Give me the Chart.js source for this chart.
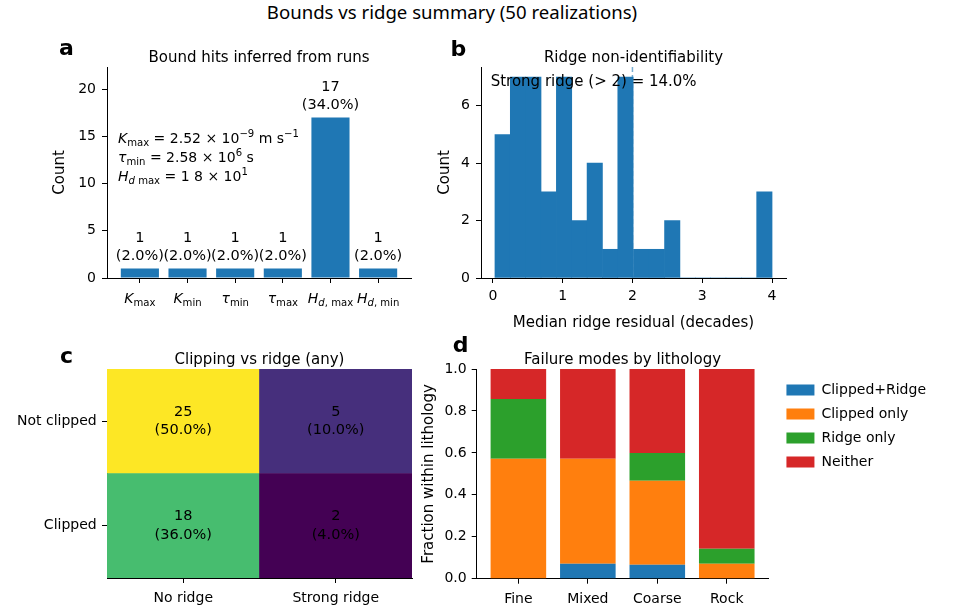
<!DOCTYPE html>
<html>
<head>
<meta charset="utf-8">
<script src="https://cdn.jsdelivr.net/npm/chart.js@4.4.1/dist/chart.umd.min.js"></script>
<style>
  body { margin: 0; background: #fff; }
  #fig { position: relative; width: 961px; height: 612px; background: #fff; overflow: hidden; }
  #fig canvas { position: absolute; }
  #sup { position: absolute; left: 0; top: 0; width: 904px; text-align: center;
         font: 18.6px "Noto Sans"; line-height: 24px; color: #000; }
</style>
</head>
<body>
<div id="fig">
  <div id="sup">Bounds vs ridge summary (50 realizations)</div>
  <canvas id="cA" width="420" height="320" style="left:0;top:30px"></canvas>
  <canvas id="cB" width="380" height="320" style="left:420px;top:30px"></canvas>
  <canvas id="cC" width="420" height="272" style="left:0;top:340px"></canvas>
  <canvas id="cD" width="551" height="282" style="left:410px;top:330px"></canvas>
</div>
<script>
// ---- data ----
// a: bound hits
var boundNames = ['K_max', 'K_min', 'tau_min', 'tau_max', 'H_d,max', 'H_d,min'];
var boundHits = [1, 1, 1, 1, 17, 1];
var nRuns = 50;

// b: median ridge residual histogram
var residEdges = [0.03, 0.25, 0.47, 0.69, 0.91, 1.13, 1.35, 1.57, 1.79, 2.01,
                  2.24, 2.46, 2.68, 2.90, 3.12, 3.34, 3.56, 3.78, 4.00];
var residCounts = [5, 7, 7, 3, 7, 2, 4, 1, 7, 1, 1, 2, 0, 0, 0, 0, 0, 3];
var ridgeThreshold = 2;
var strongRidgePct = 14.0;

// c: clipping vs ridge
var ridgeCols = ['No ridge', 'Strong ridge'];
var clipRows = ['Not clipped', 'Clipped'];
var notClippedCounts = [25, 5];
var clippedCounts = [18, 2];

// d: failure modes by lithology (counts per lithology)
var lithos = ['Fine', 'Mixed', 'Coarse', 'Rock'];
var modeNames = ['Clipped+Ridge', 'Clipped only', 'Ridge only', 'Neither'];
var clippedRidge = [0, 1, 1, 0];
var clippedOnly = [4, 7, 6, 1];
var ridgeOnly = [2, 0, 2, 1];
var neither = [1, 6, 6, 12];

// ---- look ----
var FONT = '"DejaVu Sans"';
Chart.defaults.font.family = FONT;
Chart.defaults.color = '#000';
var tab = ['#1f77b4', '#ff7f0e', '#2ca02c', '#d62728'];

// mathtext-ish labels
var mathLabels = {
  'K_max': [{t: 'K', i: 1}, {t: 'max', s: -1}],
  'K_min': [{t: 'K', i: 1}, {t: 'min', s: -1}],
  'tau_min': [{t: 'τ', i: 1}, {t: 'min', s: -1}],
  'tau_max': [{t: 'τ', i: 1}, {t: 'max', s: -1}],
  'H_d,max': [{t: 'H', i: 1}, {t: 'd', i: 1, s: -1}, {t: ', max', s: -1}],
  'H_d,min': [{t: 'H', i: 1}, {t: 'd', i: 1, s: -1}, {t: ', min', s: -1}]
};
var boundNotes = [
  [{t: 'K', i: 1}, {t: 'max', s: -1}, {t: ' = 2.52 × 10'}, {t: '−9', s: 1}, {t: ' m s'}, {t: '−1', s: 1}],
  [{t: 'τ', i: 1}, {t: 'min', s: -1}, {t: ' = 2.58 × 10'}, {t: '6', s: 1}, {t: ' s'}],
  [{t: 'H', i: 1}, {t: 'd', i: 1, s: -1}, {t: ' max', s: -1}, {t: ' = 1 8 × 10'}, {t: '1', s: 1}]
];

function drawMath(ctx, x, y, parts, size, align) {
  var font = function (p) { return (p.i ? 'italic ' : '') + (p.s ? size * 0.72 : size) + 'px ' + FONT; };
  var w = 0;
  parts.forEach(function (p) { ctx.font = font(p); w += ctx.measureText(p.t).width; });
  var cx = align === 'center' ? x - w / 2 : x;
  ctx.textAlign = 'left';
  ctx.textBaseline = 'alphabetic';
  parts.forEach(function (p) {
    ctx.font = font(p);
    var dy = p.s === -1 ? size * 0.2 : (p.s === 1 ? -size * 0.42 : 0);
    ctx.fillText(p.t, cx, y + dy);
    cx += ctx.measureText(p.t).width;
  });
}

function letter(ctx, ch, x, y) {
  ctx.font = 'bold 22px ' + FONT;
  ctx.textAlign = 'left';
  ctx.textBaseline = 'alphabetic';
  ctx.fillStyle = '#000';
  ctx.fillText(ch, x, y);
}

// viridis colormap anchors
var viridisStops = ['#440154', '#472d7b', '#3b528b', '#2c728e', '#21918c', '#28ae80', '#5ec962', '#addc30', '#fde725'];
function viridis(t) {
  var n = viridisStops.length - 1, k = Math.min(n - 1, Math.floor(t * n)), f = t * n - k;
  var a = viridisStops[k], b = viridisStops[k + 1];
  var c = [1, 3, 5].map(function (o) {
    var va = parseInt(a.substr(o, 2), 16), vb = parseInt(b.substr(o, 2), 16);
    return Math.round(va + (vb - va) * f);
  });
  return 'rgb(' + c.join(',') + ')';
}

function yAxis(width, title, titlePad, extra) {
  var s = {
    afterFit: function (sc) { sc.width = width; },
    border: {display: true, color: '#000', width: 1},
    grid: {drawOnChartArea: false, drawTicks: true, tickLength: 5, tickColor: '#000'},
    ticks: {color: '#000', font: {size: 14}, padding: 5},
    title: title ? {display: true, text: title, color: '#000', font: {size: 15, lineHeight: 1}, padding: {top: titlePad, bottom: 0}} : {display: false}
  };
  for (var k in extra) s[k] = extra[k];
  return s;
}
function xAxis(height, extra) {
  var s = {
    afterFit: function (sc) { sc.height = height; },
    border: {display: true, color: '#000', width: 1},
    grid: {drawOnChartArea: false, drawTicks: true, tickLength: 5, tickColor: '#000', offset: false},
    ticks: {color: '#000', font: {size: 14}, padding: 5.5, maxRotation: 0, autoSkip: false}
  };
  for (var k in extra) s[k] = extra[k];
  return s;
}
function panelTitle(text, top, bottom) {
  return {display: true, fullSize: false, text: text, color: '#000', font: {size: 15, weight: 'normal', lineHeight: 1}, padding: {top: top, bottom: bottom}};
}

// ---- a: bound hits ----
new Chart(document.getElementById('cA'), {
  type: 'bar',
  data: {
    datasets: [{
      data: boundHits.map(function (v, i) { return {x: i, y: v}; }),
      backgroundColor: tab[0], borderWidth: 0, barPercentage: 0.8, categoryPercentage: 1
    }]
  },
  options: {
    responsive: false, animation: false,
    layout: {padding: {left: 0, right: 9, top: 0, bottom: 0}},
    plugins: {legend: {display: false}, tooltip: {enabled: false}, title: panelTitle('Bound hits inferred from runs', 21, 1)},
    scales: {
      x: xAxis(72, {
        type: 'linear', offset: false, min: -0.69, max: 5.69,
        afterBuildTicks: function (sc) { sc.ticks = boundNames.map(function (n, i) { return {value: i}; }); },
        ticks: {display: false}
      }),
      y: yAxis(107, 'Count', 53, {
        min: 0, max: 22.35,
        ticks: {color: '#000', font: {size: 14}, padding: 6, stepSize: 5, includeBounds: false}
      })
    }
  },
  plugins: [{
    id: 'textA',
    afterDraw: function (chart) {
      var ctx = chart.ctx, area = chart.chartArea, xs = chart.scales.x, ys = chart.scales.y;
      ctx.save();
      ctx.fillStyle = '#000';
      ctx.font = '14.5px ' + FONT;
      ctx.textAlign = 'center';
      ctx.textBaseline = 'middle';
      boundHits.forEach(function (v, i) {
        var x = xs.getPixelForValue(i), top = ys.getPixelForValue(v);
        ctx.fillText(String(v), x, top - 30.5);
        ctx.fillText('(' + (100 * v / nRuns).toFixed(1) + '%)', x, top - 12);
      });
      boundNames.forEach(function (n, i) {
        drawMath(ctx, xs.getPixelForValue(i), area.bottom + 25, mathLabels[n], 14, 'center');
      });
      boundNotes.forEach(function (parts, i) {
        drawMath(ctx, area.left + 11, area.top + 75.7 + i * 19.2, parts, 14, 'left');
      });
      letter(ctx, 'a', 59, 25);
      ctx.restore();
    }
  }]
});

// ---- b: ridge histogram ----
var binCenters = residCounts.map(function (c, i) { return (residEdges[i] + residEdges[i + 1]) / 2; });
var yMaxB = 7.35;
new Chart(document.getElementById('cB'), {
  type: 'bar',
  data: {
    datasets: [{
      type: 'bar', order: 1,
      data: residCounts.map(function (c, i) { return {x: binCenters[i], y: c}; }),
      backgroundColor: tab[0], borderWidth: 0, barPercentage: 1, categoryPercentage: 1
    }, {
      type: 'line', order: 2,
      data: [{x: ridgeThreshold, y: yMaxB}, {x: ridgeThreshold, y: 0}],
      borderColor: 'rgba(31,119,180,0.6)', borderWidth: 1.5, borderDash: [5, 3], pointRadius: 0, fill: false
    }]
  },
  options: {
    responsive: false, animation: false,
    layout: {padding: {left: 0, right: 14, top: 0, bottom: 0}},
    plugins: {legend: {display: false}, tooltip: {enabled: false}, title: panelTitle('Ridge non-identifiability', 21, 1)},
    scales: {
      x: xAxis(72, {
        type: 'linear', offset: false, min: -0.17, max: 4.2,
        ticks: {color: '#000', font: {size: 14}, padding: 5.3, stepSize: 1, includeBounds: false, maxRotation: 0},
        title: {display: true, text: 'Median ridge residual (decades)', color: '#000', font: {size: 15, lineHeight: 1}, padding: {top: 0, bottom: 19.8}}
      }),
      y: yAxis(61, 'Count', 17.5, {
        min: 0, max: yMaxB,
        ticks: {color: '#000', font: {size: 14}, padding: 6, stepSize: 2, includeBounds: false}
      })
    }
  },
  plugins: [{
    id: 'textB',
    afterDraw: function (chart) {
      var ctx = chart.ctx, area = chart.chartArea;
      ctx.save();
      ctx.fillStyle = '#000';
      ctx.font = '15px ' + FONT;
      ctx.textAlign = 'left';
      ctx.textBaseline = 'middle';
      ctx.fillText('Strong ridge (> ' + ridgeThreshold + ') = ' + strongRidgePct.toFixed(1) + '%', area.left + 9.7, area.top + 14.7);
      letter(ctx, 'b', 30.5, 26);
      ctx.restore();
    }
  }]
});

// ---- c: clipping vs ridge heatmap ----
var allCells = notClippedCounts.concat(clippedCounts);
var cMin = Math.min.apply(null, allCells), cMax = Math.max.apply(null, allCells);
function cellColor(v) { return viridis((v - cMin) / (cMax - cMin)); }
new Chart(document.getElementById('cC'), {
  type: 'bar',
  data: {
    labels: ridgeCols,
    datasets: [{
      label: clipRows[1], data: clippedCounts.map(function () { return 1; }),
      backgroundColor: clippedCounts.map(cellColor), borderWidth: 0, barPercentage: 1, categoryPercentage: 1
    }, {
      label: clipRows[0], data: notClippedCounts.map(function () { return 1; }),
      backgroundColor: notClippedCounts.map(cellColor), borderWidth: 0, barPercentage: 1, categoryPercentage: 1
    }]
  },
  options: {
    responsive: false, animation: false,
    layout: {padding: {left: 0, right: 8, top: 0, bottom: 0}},
    plugins: {legend: {display: false}, tooltip: {enabled: false}, title: panelTitle('Clipping vs ridge (any)', 12.5, 1.5)},
    scales: {
      x: xAxis(34, {stacked: true, ticks: {color: '#000', font: {size: 14}, padding: 6.6, maxRotation: 0}}),
      y: yAxis(107, null, 0, {
        stacked: true, min: 0, max: 2,
        afterBuildTicks: function (sc) { sc.ticks = [{value: 0.5}, {value: 1.5}]; },
        ticks: {color: '#000', font: {size: 14}, padding: 5.3, callback: function (v) { return v > 1 ? clipRows[0] : clipRows[1]; }}
      })
    }
  },
  plugins: [{
    id: 'textC',
    afterDraw: function (chart) {
      var ctx = chart.ctx, xs = chart.scales.x, ys = chart.scales.y;
      ctx.save();
      ctx.fillStyle = '#000';
      ctx.font = '14.5px ' + FONT;
      ctx.textAlign = 'center';
      ctx.textBaseline = 'middle';
      [notClippedCounts, clippedCounts].forEach(function (row, r) {
        var cy = ys.getPixelForValue(r === 0 ? 1.5 : 0.5);
        row.forEach(function (v, c) {
          var cx = xs.getPixelForValue(c);
          ctx.fillText(String(v), cx, cy - 9.5);
          ctx.fillText('(' + (100 * v / nRuns).toFixed(1) + '%)', cx, cy + 9);
        });
      });
      letter(ctx, 'c', 60, 22.7);
      ctx.restore();
    }
  }]
});

// ---- d: failure modes by lithology ----
var lithoTotals = lithos.map(function (l, i) { return clippedRidge[i] + clippedOnly[i] + ridgeOnly[i] + neither[i]; });
var modeSeries = [clippedRidge, clippedOnly, ridgeOnly, neither];
new Chart(document.getElementById('cD'), {
  type: 'bar',
  data: {
    datasets: modeSeries.map(function (series, k) {
      return {
        label: modeNames[k], stack: 'lith',
        data: series.map(function (c, i) { return {x: i, y: c / lithoTotals[i]}; }),
        backgroundColor: tab[k], borderWidth: 0, barPercentage: 0.8, categoryPercentage: 1
      };
    })
  },
  options: {
    responsive: false, animation: false,
    layout: {padding: {left: 0, right: 25, top: 0, bottom: 0}},
    plugins: {
      tooltip: {enabled: false},
      title: panelTitle('Failure modes by lithology', 22.5, 1.5),
      legend: {
        position: 'right', align: 'start', fullSize: false, maxWidth: 260,
        title: {display: true, text: '', font: {size: 4, lineHeight: 1}, padding: 0},
        labels: {boxWidth: 28, boxHeight: 11, color: '#000', font: {size: 14}, padding: 10}
      }
    },
    scales: {
      x: xAxis(33.3, {
        type: 'linear', offset: false, min: -0.6, max: 3.6,
        afterBuildTicks: function (sc) { sc.ticks = lithos.map(function (l, i) { return {value: i}; }); },
        ticks: {color: '#000', font: {size: 14}, padding: 6.9, maxRotation: 0, callback: function (v) { return lithos[v]; }}
      }),
      y: yAxis(66.7, 'Fraction within lithology', 11.5, {
        stacked: true, min: 0, max: 1,
        ticks: {color: '#000', font: {size: 14}, padding: 5, stepSize: 0.2, callback: function (v) { return v.toFixed(1); }}
      }),
      gap: {
        position: 'right', display: true,
        grid: {display: false}, border: {display: false}, ticks: {display: false},
        afterFit: function (sc) { sc.width = 8; }
      }
    }
  },
  plugins: [{
    id: 'textD',
    afterDraw: function (chart) {
      var ctx = chart.ctx;
      ctx.save();
      letter(ctx, 'd', 42.7, 21.7);
      ctx.restore();
    }
  }]
});
</script>
</body>
</html>
